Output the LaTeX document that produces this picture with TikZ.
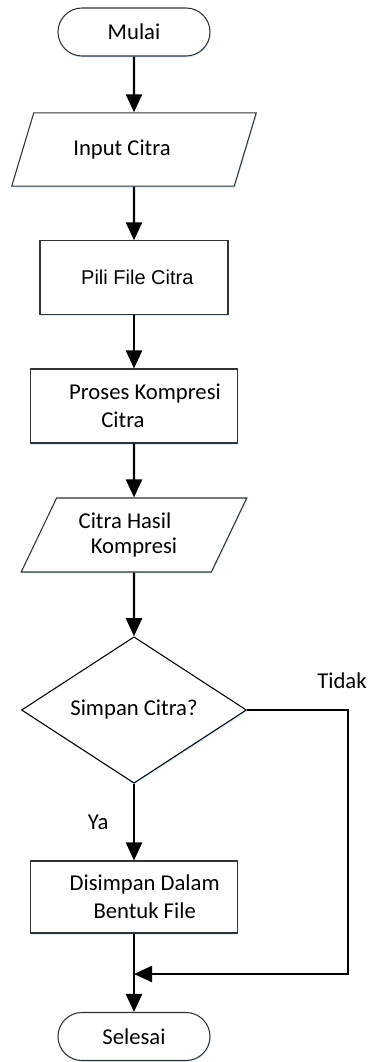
\documentclass[tikz,border=0pt]{standalone}
\usepackage{fontspec}
\setmainfont{Carlito}
\newfontfamily\arialfont{Liberation Sans}
\usetikzlibrary{shapes.geometric,arrows.meta,shadows}

\begin{document}
\begin{tikzpicture}[x=0.75pt,y=-0.75pt,
  font=\fontsize{17}{21}\selectfont,
  shadowed/.style={drop shadow={shadow xshift=0.6pt, shadow yshift=-1.2pt,
      fill=blue!40!cyan!30, opacity=0.45}},
  box/.style={draw=black!80, line width=0.8pt, fill=white, shadowed, align=center},
  terminal/.style={box, rectangle, rounded corners=18pt,
      minimum width=114pt, minimum height=36pt},
  process/.style={box, rectangle, minimum height=55pt},
  io/.style={box, trapezium, trapezium left angle=63, trapezium right angle=117,
      trapezium stretches=true, minimum height=55pt},
  decision/.style={box, diamond, draw=black, inner sep=0pt,
      minimum width=168.75pt, minimum height=103.5pt},
  flow/.style={line width=1.8pt, -{Triangle[width=12pt,length=13.5pt]}}
]
\useasboundingbox (0,0) rectangle (370,1062);

% flowchart steps
\node[terminal] (start) at (134,32) {Mulai};
\node[io, minimum width=183.75pt] (input) at (134,149.5) {Input Citra\kern18pt\null};
\node[process, minimum width=141pt, font={\arialfont\fontsize{15}{18}\selectfont}]
  (pili) at (134,277.5) {\null\kern5pt Pili File Citra};
\node[process, minimum width=155.25pt, minimum height=55.5pt] (proses) at (134,406)
  {\null\kern16.5pt Proses Kompresi\\Citra\kern16.5pt\null};
\node[io, minimum width=169.5pt, minimum height=55.5pt, font=\fontsize{17}{19}\selectfont]
  (hasil) at (134,535) {Citra Hasil\kern13.5pt\null\\Kompresi};
\node[decision] (dec) at (134,710) {Simpan Citra?};
\node[process, minimum width=155.25pt, minimum height=54pt] (save) at (134,897)
  {\null\kern16pt Disimpan Dalam\\\null\kern16pt Bentuk File};
\node[terminal] (stop) at (134,1036.5) {Selesai};
\coordinate (join) at (134,974);

% connectors
\draw[flow] (start) -- (input);
\draw[flow] (input) -- (pili);
\draw[flow] (pili) -- (proses);
\draw[flow] (proses) -- (hasil);
\draw[flow] (hasil) -- (dec);
\draw[flow] (dec) -- node[left=15pt] {Ya} (save);
\draw[flow] (save) -- (stop);
\draw[flow] (dec.east) -- node[pos=0.94, above=12pt] {Tidak} ++(101,0) |- (join);
\end{tikzpicture}
\end{document}
